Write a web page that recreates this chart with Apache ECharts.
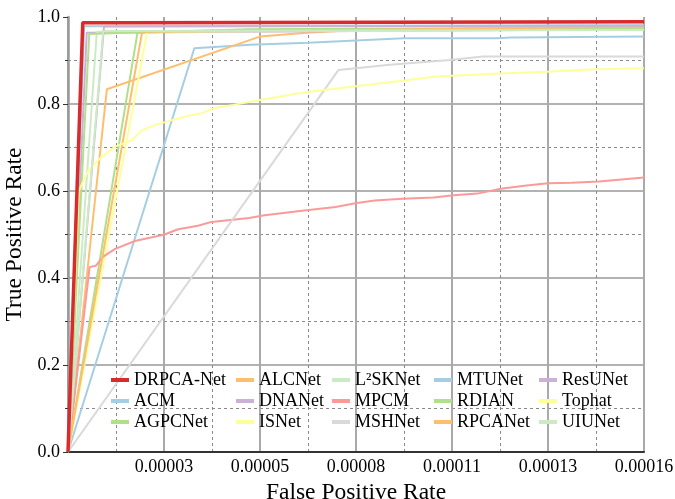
<!DOCTYPE html>
<html>
<head>
<meta charset="utf-8">
<script src="https://cdn.jsdelivr.net/npm/echarts@6/dist/echarts.min.js"></script>
<style>html,body{margin:0;padding:0;background:#fff}#c{width:675px;height:499px}</style>
</head>
<body>
<div id="c"></div>
<script>
// x values in units of 1e-5 (False Positive Rate), y = True Positive Rate
const drpcaNet = [[0,0],[0.41,0.987],[1.6,0.987],[1.65,0.989],[16,0.989]];
const acm = [[0,0],[3.51,0.928],[5.06,0.936],[6.67,0.941],[8.0,0.946],[9.33,0.951],[11.9,0.951],[12.3,0.953],[16,0.955]];
const agpcNet = [[0,0],[1.93,0.964],[5,0.972],[16,0.976]];
const alcNet = [[0,0],[1.08,0.834],[5.33,0.955],[6.63,0.964],[7.74,0.969],[16,0.973]];
const dnaNet = [[0,0],[0.52,0.964],[16,0.972]];
const isNet = [[0,0],[2.2,0.966],[16,0.972]];
const l2skNet = [[0,0],[0.8,0.966],[16,0.972]];
const mpcm = [[0,0],[0.6,0.425],[0.77,0.428],[0.98,0.449],[1.31,0.467],[1.86,0.485],[2.68,0.5],[3.06,0.512],[3.61,0.52],[3.99,0.529],[5.03,0.538],[5.46,0.544],[6.56,0.555],[7.43,0.563],[7.98,0.572],[8.52,0.578],[9.29,0.582],[10.16,0.585],[10.71,0.59],[11.37,0.594],[12.02,0.605],[12.68,0.612],[13.33,0.618],[13.99,0.619],[14.75,0.622],[16,0.631]];
const mshNet = [[0,0],[7.51,0.878],[8.94,0.89],[10.61,0.901],[11.53,0.909],[16,0.909]];
const mtuNet = [[0,0],[0.45,0.979],[16,0.981]];
const rdian = [[0,0],[0.59,0.961],[3,0.968],[16,0.974]];
const rpcaNet = [[0,0],[2.06,0.966],[8,0.97],[16,0.978]];
const resUNet = [[0,0],[1.0,0.978],[16,0.98]];
const tophat = [[0,0],[0.3,0.6],[0.57,0.648],[0.94,0.679],[1.31,0.702],[1.78,0.717],[2.06,0.74],[2.43,0.752],[2.89,0.763],[3.35,0.773],[3.72,0.779],[4.04,0.79],[4.59,0.798],[5.33,0.809],[6.68,0.828],[8.0,0.841],[9.33,0.854],[10.24,0.863],[11.98,0.87],[13.31,0.874],[14.64,0.88],[16,0.882]];
const uiuNet = [[0,0],[0.98,0.968],[16,0.97]];

const names = ['DRPCA-Net','ACM','AGPCNet','ALCNet','DNANet','ISNet','L²SKNet','MPCM','MSHNet','MTUNet','RDIAN','RPCANet','ResUNet','Tophat','UIUNet'];
const seriesData = [drpcaNet, acm, agpcNet, alcNet, dnaNet, isNet, l2skNet, mpcm, mshNet, mtuNet, rdian, rpcaNet, resUNet, tophat, uiuNet];
const colors = ['#d92a2c','#a6cee3','#b2df8a','#fdbf6f','#cab2d6','#ffff99','#ccebc5','#fb9a99','#d9d9d9','#a6cee3','#b2df8a','#fdbf6f','#cab2d6','#ffff99','#ccebc5'];
const xMax = 16;          // 0.00016
const xInterval = 16 / 6; // labels 0.00003 ... 0.00016

const FONT = 'Liberation Serif';
const chart = echarts.init(document.getElementById('c'), null, {renderer: 'canvas'});

const series = names.map((n, i) => ({
  name: n,
  type: 'line',
  data: seriesData[i],
  symbol: 'none',
  color: colors[i],
  lineStyle: {color: colors[i], width: i === 0 ? 3.5 : 2},
  z: i === 0 ? 10 : 2,
  animation: false
}));

// legend columns (matplotlib column-major layout, 3 rows x 5 columns)
const legendCols = [];
for (let c = 0; c < 5; c++) legendCols.push(names.slice(c * 3, c * 3 + 3));
const colLeft = [111, 236, 332, 434, 539];

const legends = legendCols.map((col, i) => ({
  orient: 'vertical',
  left: colLeft[i],
  top: 370,
  padding: 0,
  data: col,
  icon: 'rect',
  itemWidth: 18,
  itemHeight: 4,
  itemGap: 1,
  selectedMode: false,
  textStyle: {fontFamily: FONT, fontSize: 18, color: '#000', lineHeight: 20}
}));

chart.setOption({
  animation: false,
  backgroundColor: '#fff',
  grid: {left: 68, right: 31, top: 17, bottom: 47, containLabel: false, outerBoundsMode: 'none'},
  legend: legends,
  xAxis: {
    type: 'value',
    min: 0,
    max: xMax,
    interval: xInterval,
    name: 'False Positive Rate',
    nameLocation: 'middle',
    nameGap: 23,
    nameTextStyle: {fontFamily: FONT, fontSize: 23.5, color: '#000'},
    axisLine: {show: true, lineStyle: {color: '#333', width: 2}},
    axisTick: {show: false},
    minorTick: {show: false, splitNumber: 2},
    axisLabel: {
      fontFamily: FONT, fontSize: 18, color: '#000', margin: 6,
      formatter: v => v === 0 ? '' : (v * 1e-5).toFixed(5)
    },
    splitLine: {show: true, lineStyle: {color: '#aaa', width: 2}},
    minorSplitLine: {show: true, lineStyle: {color: '#888', width: 1, type: [3, 3]}}
  },
  yAxis: {
    type: 'value',
    min: 0,
    max: 1,
    interval: 0.2,
    name: 'True Positive Rate',
    nameLocation: 'middle',
    nameGap: 28,
    nameTextStyle: {fontFamily: FONT, fontSize: 23.5, color: '#000'},
    axisLine: {show: true, lineStyle: {color: '#999', width: 2.5}},
    axisTick: {show: true, length: 5, lineStyle: {color: '#333', width: 1}},
    minorTick: {show: true, splitNumber: 2, length: 3, lineStyle: {color: '#333', width: 1}},
    axisLabel: {
      fontFamily: FONT, fontSize: 18, color: '#000', margin: 8,
      formatter: v => v.toFixed(1)
    },
    splitLine: {show: true, showMaxLine: false, lineStyle: {color: '#999', width: 1.5}},
    minorSplitLine: {show: true, lineStyle: {color: '#888', width: 1, type: [3, 3]}}
  },
  series: series
});
</script>
</body>
</html>
